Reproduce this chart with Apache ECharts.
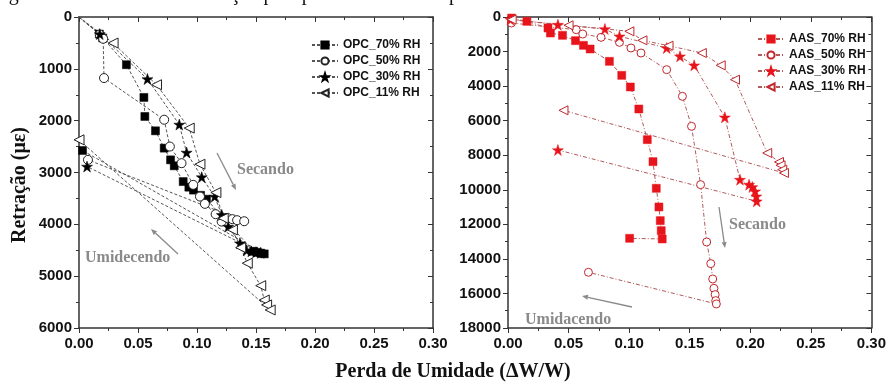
<!DOCTYPE html>
<html>
<head>
<meta charset="utf-8">
<script src="https://cdn.jsdelivr.net/npm/echarts@6/dist/echarts.min.js"></script>
<style>
  html, body { margin: 0; padding: 0; background: #fff; }
  #chart { width: 889px; height: 384px; }
</style>
</head>
<body>
<div id="chart"></div>
<script>
// valores: [perda de umidade, retração]
const opc70 = [[0,0],[0.0173,330],[0.0201,405],[0.0402,921],[0.055,1552],[0.0558,1919],[0.0648,2196],[0.0722,2530],[0.0776,2756],[0.0807,2871],[0.0883,3175],[0.0931,3283],[0.097,3340],[0.103,3440],[0.108,3515],[0.148,4520],[0.151,4540],[0.154,4555],[0.157,4570],[0.003,2575]];
const opc50 = [[0,0],[0.0176,340],[0.0205,420],[0.0212,1178],[0.0722,1982],[0.077,2499],[0.0869,2820],[0.0968,3238],[0.1025,3464],[0.1067,3605],[0.1158,3804],[0.1209,3947],[0.126,3880],[0.13,3900],[0.134,3920],[0.14,3940],[0.0076,2756]];
const opc30 = [[0,0],[0.0176,330],[0.058,1197],[0.085,2075],[0.0912,2615],[0.104,3090],[0.115,3464],[0.121,3818],[0.1265,4044],[0.1364,4364],[0.142,4500],[0.146,4520],[0.15,4540],[0.154,4550],[0.0068,2885]];
const opc11 = [[0,0],[0.0289,502],[0.0657,1307],[0.0934,2143],[0.1025,2840],[0.116,3387],[0.1222,3882],[0.130,4107],[0.137,4449],[0.1426,4750],[0.154,5183],[0.157,5460],[0.159,5555],[0.162,5652],[0,2369]];

const aas70 = [[0.003,60],[0.0156,251],[0.033,637],[0.035,926],[0.045,1061],[0.0557,1370],[0.0623,1640],[0.0678,1852],[0.0837,2566],[0.0939,3376],[0.101,4051],[0.108,5324],[0.115,7099],[0.1197,8372],[0.1224,9915],[0.1246,10995],[0.1257,11786],[0.1265,12365],[0.1273,12847],[0.1004,12809]];
const aas50 = [[0.0028,347],[0.0563,735],[0.0617,984],[0.0768,1177],[0.092,1466],[0.1015,1794],[0.1098,2084],[0.131,3048],[0.144,4591],[0.1515,6327],[0.159,9703],[0.164,13021],[0.1674,14275],[0.169,15162],[0.170,15702],[0.171,16069],[0.1715,16416],[0.172,16609],[0.0664,14776]];
const aas30 = [[0.002,150],[0.0412,444],[0.080,694],[0.092,1119],[0.131,1794],[0.142,2276],[0.1537,2797],[0.179,5806],[0.1915,9414],[0.199,9703],[0.2017,9838],[0.204,10089],[0.205,10378],[0.2053,10667],[0.0412,7697]];
const aas11 = [[0.003,150],[0.05,480],[0.1002,829],[0.111,1350],[0.1325,1659],[0.16,2083],[0.1756,2797],[0.1874,3627],[0.214,7870],[0.2237,8391],[0.225,8584],[0.2264,8835],[0.2278,9028],[0.0458,5401]];

const opcNames = ['OPC_70% RH','OPC_50% RH','OPC_30% RH','OPC_11% RH'];
const aasNames = ['AAS_70% RH','AAS_50% RH','AAS_30% RH','AAS_11% RH'];

const STAR = 'path://M50,0L61.8,35.3L99,35.3L69,57.1L80.4,92.7L50,70.6L19.6,92.7L31,57.1L1,35.3L38.2,35.3Z';
const RED = '#e8141b';
const AXC = '#333';
const TICK_FONT = { fontFamily: 'Liberation Sans, Arial', fontWeight: 'bold', fontSize: 15, color: '#111' };
const SERIF = 'Liberation Serif, Times New Roman, serif';

// a origem (0,0) só serve de início da curva, sem marcador
function pts(data) {
    return data.map(p => (p[0] === 0 && p[1] === 0) ? { value: p, symbol: 'none' } : p);
}

function mk(name, data, gi, sym, size, filled, color, lineColor, dash, rotate) {
    return {
        name: name, type: 'line', data: pts(data),
        xAxisIndex: gi, yAxisIndex: gi,
        symbol: sym, symbolSize: size, symbolRotate: rotate || 0,
        showAllSymbol: true, animation: false,
        itemStyle: filled ? { color: color, borderColor: color, borderWidth: 0.5 }
                          : { color: '#fff', borderColor: color, borderWidth: 1 },
        lineStyle: { color: lineColor, width: 1, type: dash }
    };
}

function bottomAxis(gi, show) {
    return {
        type: 'value', gridIndex: gi, min: 0, max: 0.3, interval: 0.05,
        position: show ? 'bottom' : 'top',
        axisLine: { show: true, onZero: false, lineStyle: { color: AXC, width: 1.5 } },
        axisTick: { show: true, inside: !show, length: 5, lineStyle: { color: AXC } },
        minorTick: { show: true, splitNumber: 2, length: 3, lineStyle: { color: AXC } },
        splitLine: { show: false },
        axisLabel: show ? Object.assign({ margin: 8, formatter: v => v.toFixed(2) }, TICK_FONT) : { show: false }
    };
}

function sideAxis(gi, max, interval, show) {
    return {
        type: 'value', gridIndex: gi, min: 0, max: max, interval: interval, inverse: true,
        position: show ? 'left' : 'right',
        axisLine: { show: true, onZero: false, lineStyle: { color: AXC, width: 1.5 } },
        axisTick: { show: true, inside: !show, length: 5, lineStyle: { color: AXC } },
        minorTick: { show: true, splitNumber: 2, length: 3, lineStyle: { color: AXC } },
        splitLine: { show: false },
        axisLabel: show ? Object.assign({ margin: 7, formatter: v => String(v) }, TICK_FONT) : { show: false }
    };
}

function arrow(x1, y1, x2, y2) {
    let a = Math.atan2(y2 - y1, x2 - x1), L = 6, W = 2.5;
    let bx = x2 - L * Math.cos(a), by = y2 - L * Math.sin(a);
    let px = -Math.sin(a) * W, py = Math.cos(a) * W;
    return [
        { type: 'line', shape: { x1: x1, y1: y1, x2: bx, y2: by }, style: { stroke: '#8a8a8a', lineWidth: 1.3 } },
        { type: 'polygon', shape: { points: [[x2, y2], [bx + px, by + py], [bx - px, by - py]] }, style: { fill: '#8a8a8a' } }
    ];
}

function label(text, x, y) {
    return { type: 'text', x: x, y: y, style: { text: text, font: 'bold 16px ' + SERIF, fill: '#8a8a8a', verticalAlign: 'middle' } };
}

const legendBase = {
    orient: 'vertical', itemWidth: 26, itemHeight: 9, itemGap: 4,
    textStyle: { fontFamily: 'Liberation Sans, Arial', fontWeight: 'bold', fontSize: 12, color: '#111' }
};

let chart = echarts.init(document.getElementById('chart'));
chart.setOption({
    backgroundColor: '#fff',
    animation: false,
    grid: [
        { left: 79, right: 456, top: 17, bottom: 56 },
        { left: 508, right: 16, top: 17, bottom: 56 }
    ],
    xAxis: [bottomAxis(0, true), bottomAxis(1, true), bottomAxis(0, false), bottomAxis(1, false)],
    yAxis: [sideAxis(0, 6000, 1000, true), sideAxis(1, 18000, 2000, true), sideAxis(0, 6000, 1000, false), sideAxis(1, 18000, 2000, false)],
    legend: [
        Object.assign({ data: opcNames, left: 306, top: 34 }, legendBase),
        Object.assign({ data: aasNames, left: 752, top: 28 }, legendBase)
    ],
    series: [
        mk(opcNames[0], opc70, 0, 'rect', 8, true, '#000', '#555', [3, 2]),
        mk(opcNames[1], opc50, 0, 'circle', 9, false, '#222', '#555', [3, 2]),
        mk(opcNames[2], opc30, 0, STAR, 11, true, '#000', '#555', [3, 2]),
        mk(opcNames[3], opc11, 0, 'triangle', 10, false, '#222', '#555', [3, 2], 90),
        mk(aasNames[0], aas70, 1, 'rect', 8, true, RED, '#b05a5a', [4, 2, 1, 2]),
        mk(aasNames[1], aas50, 1, 'circle', 8, false, '#c0282c', '#b05a5a', [4, 2, 1, 2]),
        mk(aasNames[2], aas30, 1, STAR, 11, true, RED, '#b05a5a', [4, 2, 1, 2]),
        mk(aasNames[3], aas11, 1, 'triangle', 9, false, '#c0282c', '#b05a5a', [4, 2, 1, 2], 90)
    ],
    graphic: [
        { type: 'text', x: -8, y: 5, style: { text: 'Figura 4.10 – Gráfico de retração pela perda de umidade para AAS e OPC', font: '20px ' + SERIF, fill: '#111', verticalAlign: 'bottom' } },
        { type: 'text', x: 20, y: 185, rotation: Math.PI / 2, style: { text: 'Retração (με)', font: 'bold 20px ' + SERIF, fill: '#111', align: 'center', verticalAlign: 'middle' } },
        { type: 'text', x: 453, y: 372, style: { text: 'Perda de Umidade (ΔW/W)', font: 'bold 20px ' + SERIF, fill: '#111', align: 'center', verticalAlign: 'middle' } },
        label('Secando', 237, 170),
        label('Umidecendo', 85, 258),
        label('Secando', 729, 225),
        label('Umidacendo', 525, 320)
    ].concat(arrow(217, 153, 236, 190), arrow(178, 254, 151, 229), arrow(719, 207, 725, 248), arrow(632, 307, 582, 296))
});
</script>
</body>
</html>
